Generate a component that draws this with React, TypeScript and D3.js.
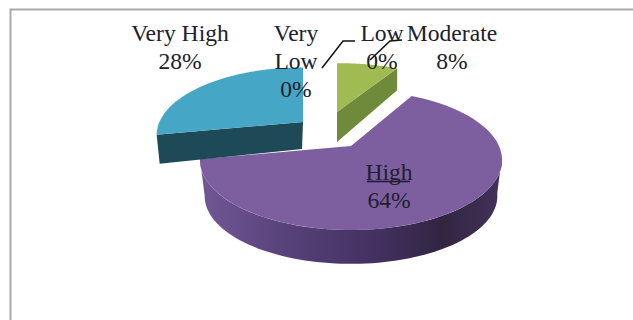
import React from "react";
import * as d3 from "d3";

// Risk level shares, in chart order starting from twelve o'clock.
const categories = ["Very Low", "Low", "Moderate", "High", "Very High"];
const shares = [0, 0, 8, 64, 28];

const WIDTH = 633;
const HEIGHT = 320;
const SERIF = "'Liberation Serif', 'Times New Roman', serif";
const FONT_SIZE = 23.6;

// Pie plane to screen mapping: a circle seen in perspective.
const RX = 148;
const RY = 67.2;
const TILT = 0.2;

type SliceLook = {
  cx: number; cy: number; radius: number; squash: number; depth: number; rimDepth: number;
  top: string; side: string; wall: boolean;
};

const looks: Record<string, SliceLook> = {
  Moderate: { cx: 337, cy: 112, radius: 0.99, squash: 0.88, depth: 30, rimDepth: 22, top: "#9fbb52", side: "#6f8a3a", wall: false },
  High: { cx: 351, cy: 146, radius: 1, squash: 1, depth: 37, rimDepth: 37, top: "#7d5fa0", side: "url(#highWall)", wall: true },
  "Very High": { cx: 303, cy: 122, radius: 0.97, squash: 1, depth: 27, rimDepth: 29, top: "#46a6c6", side: "#1e4a58", wall: false },
};

const project = (look: SliceLook, angle: number, r: number): [number, number] => {
  const u = r * Math.sin(angle);
  const v = r * Math.cos(angle);
  const w = 1 + TILT * v;
  return [look.cx + (RX * u) / w, look.cy - (RY * look.squash * v) / w];
};

const outline = d3.line<[number, number]>();

const arcPoints = (look: SliceLook, a0: number, a1: number, r: number, dy = 0): [number, number][] =>
  d3.range(0, 1.0001, 1 / 80).map((t) => {
    const [x, y] = project(look, a0 + (a1 - a0) * t, r);
    return [x, y + dy] as [number, number];
  });

const arcs = d3.pie<number>().sort(null)(shares);

type Label = { lines: string[]; x: number; y: number };

const labels: Label[] = [
  { lines: ["Very High", "28%"], x: 180, y: 41 },
  { lines: ["Very", "Low", "0%"], x: 296, y: 41 },
  { lines: ["Low", "0%"], x: 382, y: 41 },
  { lines: ["Moderate", "8%"], x: 452, y: 41 },
  { lines: ["High", "64%"], x: 389, y: 180 },
];

// Leader lines from the two empty slices, plus the one under the High label.
const leaders: [number, number][][] = [
  [[322, 68], [343, 41], [355, 41]],
  [[370, 60], [390, 41], [402, 40]],
  [[367, 181.5], [410, 181.5]],
];

function Slice({ name, a0, a1 }: { name: string; a0: number; a1: number }) {
  const look = looks[name];
  if (!look) return null;
  const apex = project(look, 0, 0);
  const topFace = outline([apex, ...arcPoints(look, a0, a1, look.radius)])! + "Z";

  let sideFace: string;
  if (look.wall) {
    // Curved outer wall of the large slice, narrower at its lower rim.
    const from = Math.max(a0, Math.PI * 0.55);
    const upper = arcPoints(look, from, a1, look.radius);
    const lower = arcPoints(look, from, a1, look.radius * 0.97, look.depth).reverse();
    sideFace = outline([...upper, ...lower])! + "Z";
  } else {
    // Flat cut face of an exploded slice, along its most exposed radius.
    const edge = name === "Moderate" ? a1 : a0;
    const rim = project(look, edge, look.radius);
    sideFace = outline([
      apex,
      rim,
      [rim[0] + (name === "Moderate" ? 0 : 3), rim[1] + look.rimDepth],
      [apex[0] - (name === "Moderate" ? 0 : 1), apex[1] + look.depth],
    ])! + "Z";
  }

  return (
    <g>
      <path d={sideFace} fill={look.side} />
      <path d={topFace} fill={look.top} />
    </g>
  );
}

export default function App() {
  const order = ["High", "Very High", "Moderate"];
  return (
    <svg
      width={WIDTH}
      height={HEIGHT}
      style={{ position: "absolute", left: 0, top: 0, background: "#fff" }}
    >
      <defs>
        <linearGradient id="highWall" gradientUnits="userSpaceOnUse" x1={199} x2={502} y1={0} y2={0}>
          <stop offset="0" stopColor="#715896" />
          <stop offset="0.3" stopColor="#574179" />
          <stop offset="0.6" stopColor="#42305f" />
          <stop offset="0.8" stopColor="#322541" />
          <stop offset="1" stopColor="#43325a" />
        </linearGradient>
      </defs>

      <path d={`M633,9.5H10.5V320`} fill="none" stroke="#a9a9a9" strokeWidth={2} />

      {order.map((name) => {
        const arc = arcs[categories.indexOf(name)];
        return <Slice key={name} name={name} a0={arc.startAngle} a1={arc.endAngle} />;
      })}

      {leaders.map((pts, i) => (
        <path key={i} d={outline(pts)!} fill="none" stroke={i === 2 ? "#1f1638" : "#111"} strokeWidth={1.5} />
      ))}

      {labels.map((label) => (
        <text
          key={label.lines.join()}
          x={label.x}
          y={label.y}
          textAnchor="middle"
          fontFamily={SERIF}
          fontSize={FONT_SIZE}
          fill="#20202c"
        >
          {label.lines.map((line, i) => (
            <tspan key={i} x={label.x} y={label.y + i * 28}>
              {line}
            </tspan>
          ))}
        </text>
      ))}
    </svg>
  );
}
